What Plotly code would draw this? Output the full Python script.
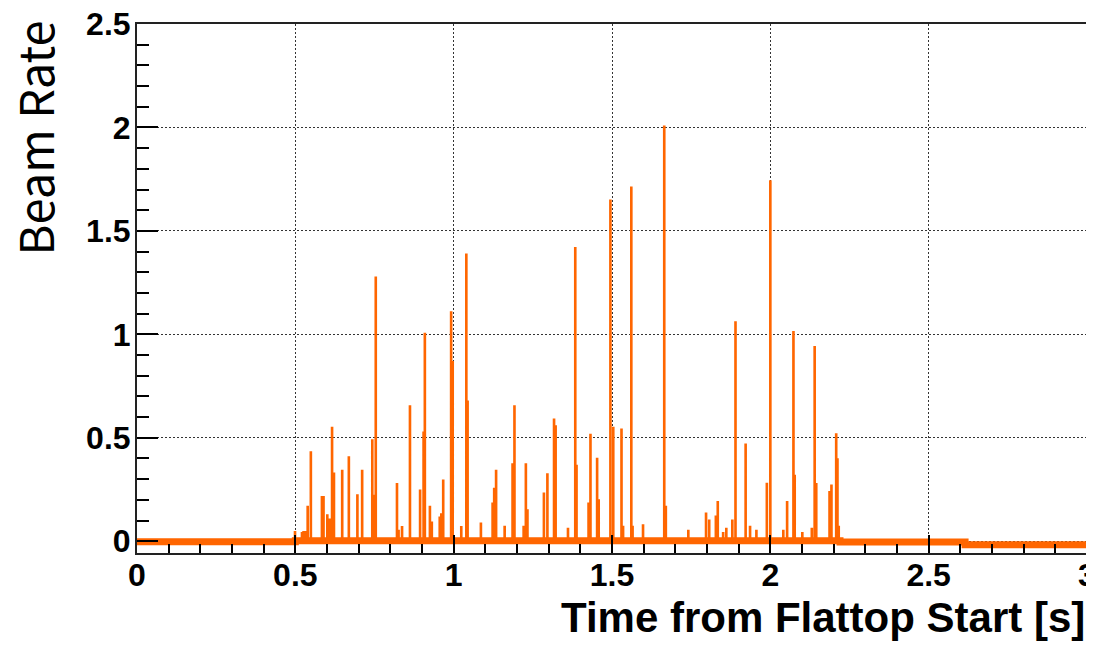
import plotly.graph_objects as go

# ---- data ----
# baseline level (piecewise constant): segment start times and levels
baseline_t = [0.0, 0.5, 2.22, 2.615]
baseline_v = [-0.003, 0.002, -0.004, -0.017]
x_end = 3.0

# narrow spikes: time [s] and height
spike_t = [0.498, 0.520, 0.525, 0.530, 0.538, 0.548, 0.583, 0.588, 0.600, 0.607,
           0.615, 0.621, 0.647, 0.668, 0.695, 0.710, 0.742, 0.748, 0.753, 0.820,
           0.825, 0.836, 0.861, 0.893, 0.904, 0.908, 0.924, 0.930, 0.955, 0.960,
           0.966, 0.991, 0.996, 1.023, 1.039, 1.043, 1.085, 1.122, 1.127, 1.133,
           1.160, 1.185, 1.191, 1.220, 1.227, 1.232, 1.284, 1.295, 1.316, 1.321,
           1.360, 1.383, 1.387, 1.425, 1.431, 1.452, 1.457, 1.494, 1.503, 1.529,
           1.534, 1.560, 1.564, 1.597, 1.664, 1.669, 1.740, 1.796, 1.806, 1.827,
           1.833, 1.850, 1.860, 1.879, 1.889, 1.921, 1.935, 1.955, 1.988, 1.999,
           2.040, 2.052, 2.072, 2.076, 2.100, 2.130, 2.139, 2.144, 2.186, 2.192,
           2.207, 2.211, 2.215]
spike_h = [0.045, 0.040, 0.045, 0.045, 0.166, 0.430, 0.214, 0.214, 0.126, 0.105,
           0.549, 0.327, 0.341, 0.406, 0.222, 0.341, 0.488, 0.220, 1.275, 0.277,
           0.050, 0.069, 0.652, 0.245, 0.525, 1.003, 0.166, 0.090, 0.115, 0.130,
           0.293, 1.107, 0.866, 0.069, 1.386, 0.675, 0.085, 0.182, 0.254, 0.340,
           0.070, 0.372, 0.652, 0.070, 0.372, 0.150, 0.230, 0.324, 0.588, 0.556,
           0.060, 1.417, 0.365, 0.182, 0.515, 0.398, 0.198, 1.647, 0.548, 0.540,
           0.070, 1.710, 0.070, 0.077, 2.005, 0.166, 0.050, 0.134, 0.100, 0.120,
           0.190, 0.040, 0.060, 0.100, 1.058, 0.468, 0.070, 0.050, 0.278, 1.740,
           0.050, 0.190, 1.011, 0.317, 0.040, 0.060, 0.939, 0.277, 0.238, 0.269,
           0.517, 0.396, 0.070]
bin_w = 0.002

x_ticks = [0, 0.5, 1, 1.5, 2, 2.5, 3]
y_ticks = [0, 0.5, 1, 1.5, 2, 2.5]

ORANGE = "#ff6600"


def base_at(t):
    v = baseline_v[0]
    for bt, bv in zip(baseline_t, baseline_v):
        if t >= bt:
            v = bv
    return v


# build the histogram outline (horizontal-then-vertical steps)
events = [(bt, bv) for bt, bv in zip(baseline_t, baseline_v)]
for t, h in zip(spike_t, spike_h):
    events.append((t, h))
    events.append((t + bin_w, base_at(t + bin_w)))
events.sort(key=lambda e: e[0])
hx = [e[0] for e in events] + [x_end]
hy = [e[1] for e in events] + [baseline_v[-1]]

fig = go.Figure()
# thick noisy baseline band
fig.add_trace(go.Scatter(
    x=baseline_t + [x_end], y=baseline_v + [baseline_v[-1]],
    mode="lines", line=dict(color=ORANGE, width=7, shape="hv"),
    hoverinfo="skip", showlegend=False))
# histogram outline with spikes
fig.add_trace(go.Scatter(
    x=hx, y=hy, mode="lines",
    line=dict(color=ORANGE, width=2, shape="hv"),
    showlegend=False))

tickfont = dict(family="Liberation Sans, Arial, sans-serif", size=32, color="black")
axis_common = dict(
    showline=True, linecolor="#222222", linewidth=2, mirror=True,
    ticks="inside", tickcolor="black", tickwidth=2,
    showgrid=True, gridcolor="#333333", gridwidth=1, griddash="2px,2px",
    zeroline=False, tickfont=tickfont, automargin=False,
    ticklabeloverflow="allow",
)

fig.update_xaxes(
    range=[0, 3], tickvals=x_ticks, ticktext=[f"<b>{v:g}</b>" for v in x_ticks],
    ticklen=18, ticklabelstandoff=-7,
    minor=dict(ticks="inside", dtick=0.1, ticklen=9, tickcolor="black",
               tickwidth=2, showgrid=False),
    **axis_common)
fig.update_yaxes(
    range=[-0.057, 2.5], tickvals=y_ticks, ticktext=[f"<b>{v:g}</b>" for v in y_ticks],
    ticklen=21, ticklabelstandoff=-2,
    minor=dict(ticks="inside", dtick=0.1, ticklen=12, tickcolor="black",
               tickwidth=2, showgrid=False),
    **axis_common)

# the page body adds an 8px margin, so the figure is 8px smaller on each side
fig.update_layout(
    width=1086, height=638,
    margin=dict(l=129, r=7, t=16, b=93),
    paper_bgcolor="white", plot_bgcolor="white",
    font=dict(family="Liberation Sans, Arial, sans-serif"),
    annotations=[
        dict(text="<b>Time from Flattop Start [s]</b>", xref="paper", yref="paper",
             x=1.0, y=-0.122, xanchor="right", yanchor="middle", showarrow=False,
             font=dict(family="Liberation Sans, Arial, sans-serif", size=42, color="black")),
        dict(text="Beam Rate", xref="paper", yref="paper", textangle=-90,
             x=-0.1095, y=1.0113, xanchor="center", yanchor="top", showarrow=False,
             height=44,
             font=dict(family="Noto Sans CJK JP, Noto Sans, sans-serif", size=47,
                       color="black")),
    ],
)

fig.write_html("out.html")
